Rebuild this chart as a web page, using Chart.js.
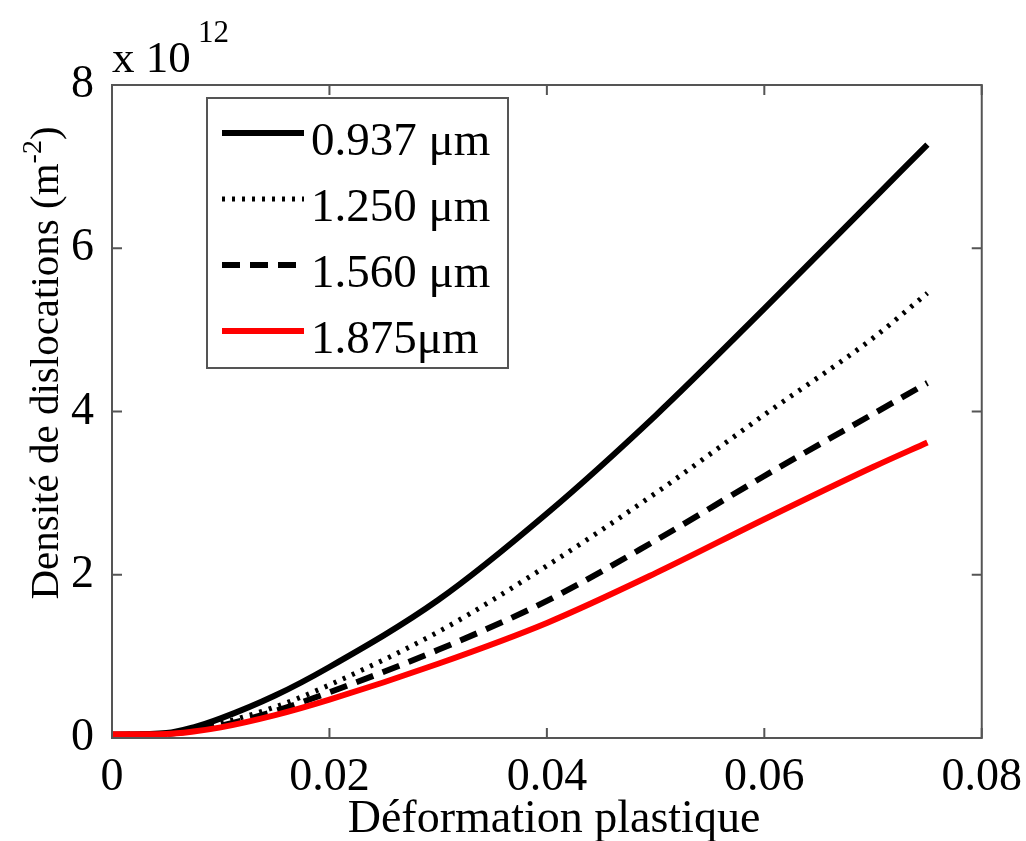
<!DOCTYPE html>
<html>
<head>
<meta charset="utf-8">
<title>Densité de dislocations</title>
<script src="https://cdn.jsdelivr.net/npm/chart.js@4.4.1/dist/chart.umd.min.js"></script>
<style>
    html, body { margin: 0; padding: 0; background: #ffffff; }
    #wrap { width: 1026px; height: 841px; }
</style>
</head>
<body>
<div id="wrap"><canvas id="densityChart" width="1026" height="841"></canvas></div>
<script>
// Data (density in units of 10^12 m^-2)
const strain = [0, 0.005, 0.0075, 0.01, 0.015, 0.02, 0.03, 0.04, 0.05, 0.06, 0.07, 0.075];
const rho0937 = [0.04, 0.06, 0.13, 0.24, 0.52, 0.87, 1.69, 2.75, 3.95, 5.26, 6.60, 7.27];
const rho1250 = [0.04, 0.05, 0.10, 0.18, 0.38, 0.65, 1.30, 2.11, 3.00, 3.96, 4.90, 5.45];
const rho1560 = [0.04, 0.05, 0.09, 0.15, 0.33, 0.56, 1.08, 1.68, 2.42, 3.21, 3.97, 4.35];
const rho1875 = [0.045, 0.05, 0.08, 0.13, 0.28, 0.47, 0.91, 1.41, 2.02, 2.68, 3.32, 3.62];

const seriesLabels = ['0.937 μm', '1.250 μm', '1.560 μm', '1.875μm'];
const xTicks = [0, 0.02, 0.04, 0.06, 0.08];
const yTicks = [0, 2, 4, 6, 8];

const FONT = '"Liberation Serif", "DejaVu Serif", serif';
const AXIS_GREY = '#555555';

function toPoints(ys) {
    return strain.map((x, i) => ({ x: x, y: ys[i] }));
}

// Box, inward ticks, legend and axis titles in the MATLAB style
const matlabAxes = {
    id: 'matlabAxes',
    afterDatasetsDraw(chart) {
        const { ctx, chartArea: { left, right, top, bottom }, scales: { x, y } } = chart;
        ctx.save();
        ctx.strokeStyle = AXIS_GREY;
        ctx.lineWidth = 2;
        ctx.setLineDash([]);
        ctx.strokeRect(left, top, right - left, bottom - top);

        ctx.beginPath();
        xTicks.forEach(v => {
            const px = x.getPixelForValue(v);
            ctx.moveTo(px, bottom); ctx.lineTo(px, bottom - 10);
            ctx.moveTo(px, top); ctx.lineTo(px, top + 10);
        });
        yTicks.forEach(v => {
            const py = y.getPixelForValue(v);
            ctx.moveTo(left, py); ctx.lineTo(left + 10, py);
            ctx.moveTo(right, py); ctx.lineTo(right - 10, py);
        });
        ctx.stroke();

        // Legend box
        const box = { x: 207, y: 98, w: 301, h: 270 };
        ctx.fillStyle = '#ffffff';
        ctx.fillRect(box.x, box.y, box.w, box.h);
        ctx.strokeRect(box.x, box.y, box.w, box.h);

        chart.data.datasets.forEach((ds, i) => {
            const ly = 133 + i * 66;
            ctx.save();
            ctx.strokeStyle = ds.borderColor;
            ctx.lineWidth = ds.borderWidth;
            ctx.setLineDash(ds.borderDash || []);
            ctx.lineCap = 'butt';
            ctx.beginPath();
            ctx.moveTo(222, ly);
            ctx.lineTo(304, ly);
            ctx.stroke();
            ctx.restore();

            ctx.fillStyle = '#000000';
            ctx.font = '47px ' + FONT;
            ctx.textAlign = 'left';
            ctx.textBaseline = 'alphabetic';
            ctx.fillText(ds.label, 311, ly + 22);
        });
        ctx.restore();
    },
    afterDraw(chart) {
        const { ctx } = chart;
        ctx.save();
        ctx.fillStyle = '#000000';
        ctx.textBaseline = 'alphabetic';

        // Exponent label
        ctx.textAlign = 'left';
        ctx.font = '45px ' + FONT;
        ctx.fillText('x 10', 112, 72);
        ctx.font = '31px ' + FONT;
        ctx.fillText('12', 198, 42);

        // X title
        ctx.textAlign = 'center';
        ctx.font = '46px ' + FONT;
        ctx.fillText('Déformation plastique', 554, 832);

        // Y title with superscript
        const main = 'Densité de dislocations (m';
        const sup = '-2';
        const close = ')';
        ctx.font = '41px ' + FONT;
        const wMain = ctx.measureText(main).width;
        const wClose = ctx.measureText(close).width;
        ctx.font = '28px ' + FONT;
        const wSup = ctx.measureText(sup).width;
        const total = wMain + wSup + wClose;

        ctx.translate(58, 363);
        ctx.rotate(-Math.PI / 2);
        ctx.textAlign = 'left';
        let cx = -total / 2;
        ctx.font = '41px ' + FONT;
        ctx.fillText(main, cx, 0);
        cx += wMain;
        ctx.font = '28px ' + FONT;
        ctx.fillText(sup, cx, -17);
        cx += wSup;
        ctx.font = '41px ' + FONT;
        ctx.fillText(close, cx, 0);
        ctx.restore();
    }
};

document.addEventListener('DOMContentLoaded', function() {
    const ctx = document.getElementById('densityChart').getContext('2d');
    new Chart(ctx, {
        type: 'line',
        data: {
            datasets: [{
                label: seriesLabels[0],
                data: toPoints(rho0937),
                borderColor: '#000000',
                borderWidth: 6,
                borderDash: [],
                order: 3
            }, {
                label: seriesLabels[1],
                data: toPoints(rho1250),
                borderColor: '#000000',
                borderWidth: 5,
                borderDash: [3, 7],
                order: 2
            }, {
                label: seriesLabels[2],
                data: toPoints(rho1560),
                borderColor: '#000000',
                borderWidth: 6,
                borderDash: [18, 10],
                order: 1
            }, {
                label: seriesLabels[3],
                data: toPoints(rho1875),
                borderColor: '#ff0000',
                borderWidth: 6,
                borderDash: [],
                order: 0
            }]
        },
        options: {
            responsive: false,
            animation: false,
            devicePixelRatio: 1,
            layout: {
                padding: { top: 85, right: 33, left: 0, bottom: 0 }
            },
            elements: {
                point: { radius: 0, hoverRadius: 0 },
                line: { cubicInterpolationMode: 'monotone', borderCapStyle: 'butt' }
            },
            plugins: {
                legend: { display: false },
                tooltip: { enabled: false }
            },
            scales: {
                x: {
                    type: 'linear',
                    min: 0,
                    max: 0.08,
                    afterFit: function(scale) { scale.height = 103; },
                    afterBuildTicks: function(scale) {
                        scale.ticks = xTicks.map(v => ({ value: v }));
                    },
                    grid: { display: false },
                    border: { display: false },
                    ticks: {
                        color: '#000000',
                        padding: 4,
                        maxRotation: 0,
                        font: { family: FONT, size: 46 },
                        callback: function(value) {
                            return value === 0 ? '0' : value.toFixed(2);
                        }
                    }
                },
                y: {
                    type: 'linear',
                    min: 0,
                    max: 8,
                    afterFit: function(scale) { scale.width = 112; },
                    afterBuildTicks: function(scale) {
                        scale.ticks = yTicks.map(v => ({ value: v }));
                    },
                    grid: { display: false },
                    border: { display: false },
                    ticks: {
                        color: '#000000',
                        padding: 10,
                        font: { family: FONT, size: 46 },
                        callback: function(value) { return String(value); }
                    }
                }
            }
        },
        plugins: [matlabAxes]
    });
});
</script>
</body>
</html>
